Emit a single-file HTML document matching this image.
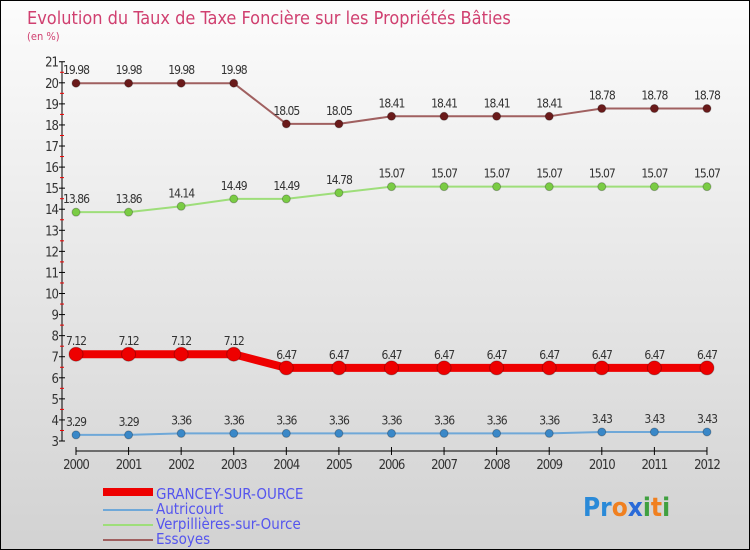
<!DOCTYPE html>
<html><head><meta charset="utf-8"><style>
body{margin:0}
#c{width:750px;height:550px;position:relative;box-sizing:border-box;border:1px solid #000;background:linear-gradient(#fcfcfc,#d2d2d2);font-family:"DejaVu Sans Condensed","Liberation Sans",sans-serif;overflow:hidden}
</style></head><body>
<div id="c">
<svg id="s" width="750" height="550" style="position:absolute;left:0;top:0">
<text x="26" y="23" font-size="18" fill="#d04070" font-family="DejaVu Sans Condensed, Liberation Sans, sans-serif" font-weight="200">Evolution du Taux de Taxe Foncière sur les Propriétés Bâties</text>
<text x="26" y="39" font-size="11" fill="#d04070">(en %)</text>
<g id="g"></g>
<g>
<rect x="102" y="487" width="50" height="8" fill="#e00"/>
<rect x="102" y="508" width="50" height="2" fill="#6fa8d8"/>
<rect x="102" y="523" width="50" height="2" fill="#9ede7a"/>
<rect x="102" y="538" width="50" height="2" fill="#a06060"/>
<text x="155" y="498" font-size="15" fill="#5555ee">GRANCEY-SUR-OURCE</text>
<text x="155" y="513" font-size="15" fill="#5555ee">Autricourt</text>
<text x="155" y="528" font-size="15" fill="#5555ee">Verpillières-sur-Ource</text>
<text x="155" y="543" font-size="15" fill="#5555ee">Essoyes</text>
</g>
<g font-size="26" font-weight="bold">
<text x="582" y="515"><tspan fill="#2a8ad8">Pr</tspan><tspan fill="#f08020">o</tspan><tspan fill="#2a6ad8">x</tspan><tspan fill="#40a040">i</tspan><tspan fill="#f08020">t</tspan><tspan fill="#40a040">i</tspan></text>
</g>
</svg>
</div>
<script>
const years=[2000,2001,2002,2003,2004,2005,2006,2007,2008,2009,2010,2011,2012];
const grancey=[7.12,7.12,7.12,7.12,6.47,6.47,6.47,6.47,6.47,6.47,6.47,6.47,6.47];
const autricourt=[3.29,3.29,3.36,3.36,3.36,3.36,3.36,3.36,3.36,3.36,3.43,3.43,3.43];
const verpillieres=[13.86,13.86,14.14,14.49,14.49,14.78,15.07,15.07,15.07,15.07,15.07,15.07,15.07];
const essoyes=[19.98,19.98,19.98,19.98,18.05,18.05,18.41,18.41,18.41,18.41,18.78,18.78,18.78];
const yTicks=[3,4,5,6,7,8,9,10,11,12,13,14,15,16,17,18,19,20,21];
const NS="http://www.w3.org/2000/svg";
const g=document.getElementById('g');
const X=i=>75+i*52.58;
const Y=v=>440-(v-3)*21.07;
function el(t,a,p){const e=document.createElementNS(NS,t);for(const k in a)e.setAttribute(k,a[k]);(p||g).appendChild(e);return e;}
// y axis
let ya=el('line',{x1:61,y1:Y(21),x2:61,y2:Y(3),stroke:'#000'});


yTicks.forEach(v=>{
 el('line',{x1:58,y1:Y(v),x2:64,y2:Y(v),stroke:'#000'});
 if(v<21){el('line',{x1:59,y1:Y(v+0.5),x2:63,y2:Y(v+0.5),stroke:'#e00'});}
 const t=el('text',{x:57,y:Y(v)+5,'text-anchor':'end','font-size':13,fill:'#333','letter-spacing':'-1'});
 t.textContent=v;
 
 
});
// x axis
let xa=el('line',{x1:X(0),y1:450,x2:X(12),y2:450,stroke:'#000'});


years.forEach((yr,i)=>{
 el('line',{x1:X(i),y1:446,x2:X(i),y2:454,stroke:'#000'});
 const t=el('text',{x:X(i),y:468,'text-anchor':'middle','font-size':13,fill:'#333','letter-spacing':'-1'});
 t.textContent=yr;
 
 
});
function series(vals,color,dot,w,r,name){
 const p=el('polyline',{points:vals.map((v,i)=>X(i)+','+Y(v)).join(' '),fill:'none',stroke:color,'stroke-width':w});
 
 
 vals.forEach((v,i)=>{
  const c=el('circle',{cx:X(i),cy:Y(v),r:r,fill:dot,stroke:'rgba(0,0,0,0.25)'});
  
  
  const t=el('text',{x:X(i),y:Y(v)-9,'text-anchor':'middle','font-size':12,fill:'#333','letter-spacing':'-1'});
  t.textContent=v.toFixed(2);
  
  
 });
}
series(essoyes,'#a06060','#6a1a1a',2,4,'essoyes');
series(verpillieres,'#9ede7a','#7acc44',2,4,'verpillieres');
series(grancey,'#ee0000','#ee0000',8,7,'grancey');
series(autricourt,'#6fa8d8','#3a88c8',2,4,'autricourt');
</script>
</body></html>
